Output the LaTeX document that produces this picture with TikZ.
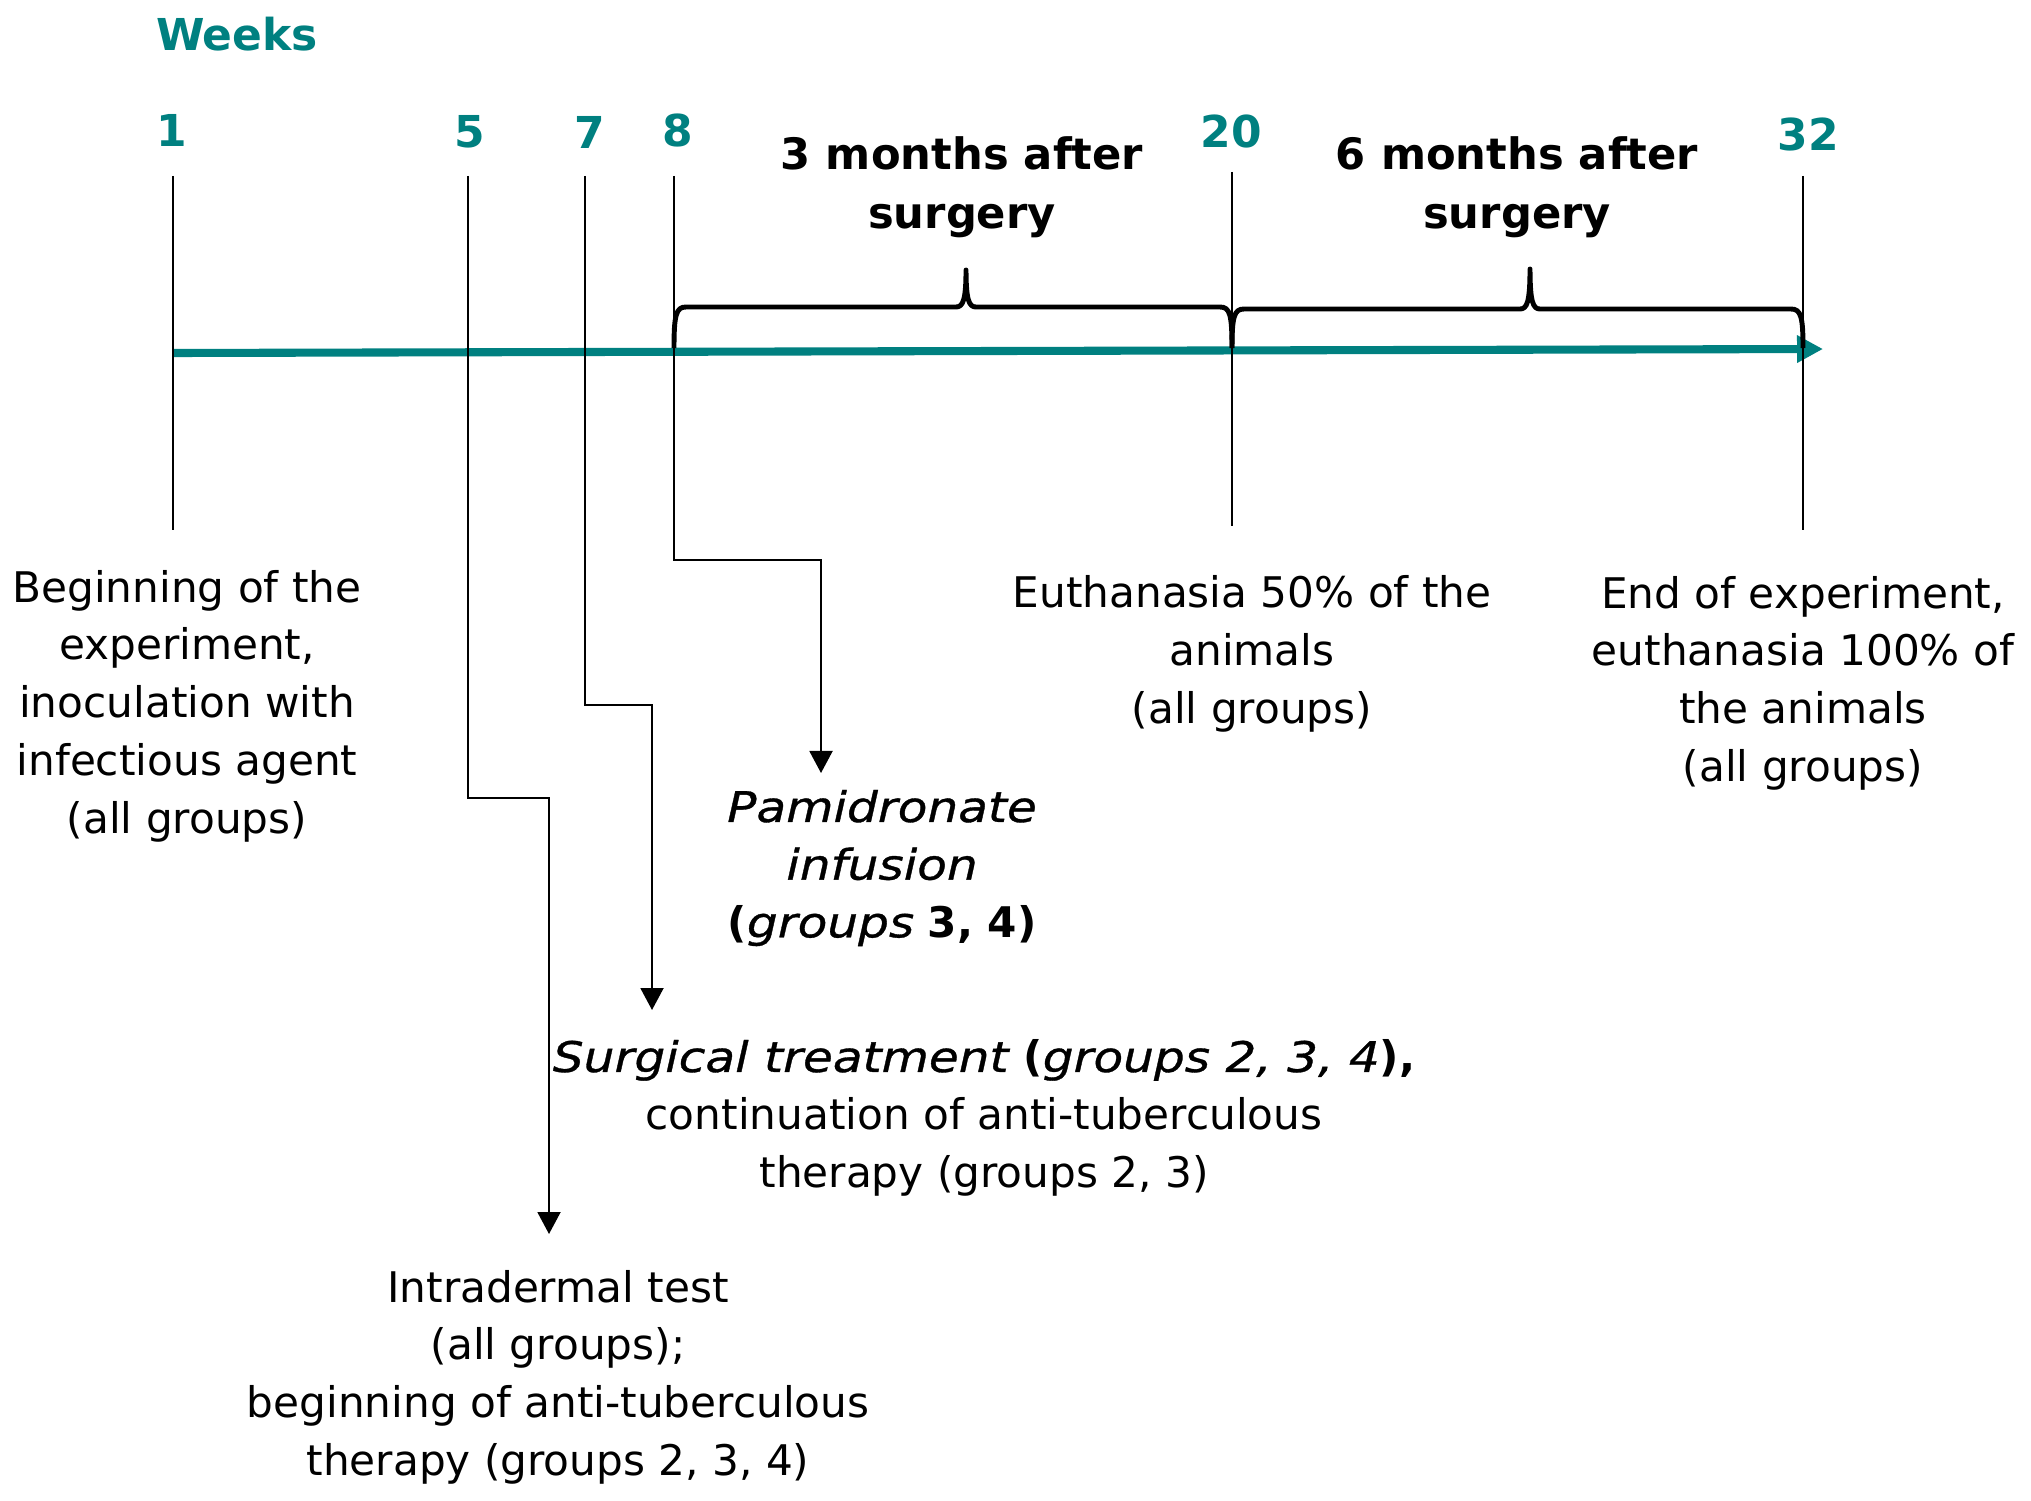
\documentclass[tikz,border=0pt]{standalone}
\usepackage{fontspec}
\setmainfont{DejaVu Sans}
\newfontfamily\penche{DejaVu Sans Oblique}[FakeStretch=1.15,FakeBold=0.8]
\usetikzlibrary{arrows.meta}
\definecolor{sarcelle}{RGB}{0,128,128}

\begin{document}
\begin{tikzpicture}[x=0.01cm,y=-0.01cm]
  \tikzstyle{trait}=[line width=0.55pt]
  \tikzstyle{fleche}=[trait,-{Triangle[width=0.23cm,length=0.22cm]}]
  \tikzstyle{axe}=[line width=2.3pt,sarcelle,-{Triangle[width=0.26cm,length=0.26cm]}]
  \tikzstyle{accolade}=[line width=1.4pt,line join=round]
\tikzset{texte/.style={align=center,inner sep=0pt,font=\fontsize{12}{16.4}\selectfont},
semaine/.style={inner sep=0pt,text=sarcelle,font=\fontsize{12.5}{15}\selectfont\bfseries},
titre/.style={texte,font=\fontsize{12.3}{16.8}\selectfont\bfseries}}
\useasboundingbox (0,0) rectangle (2031,1500);

% semaines
\node[semaine] (W) at (237,34){Weeks};
\node[semaine] (N1) at (172,130){1};
\node[semaine] (N5) at (470,132){5};
\node[semaine] (N7) at (590,132){7};
\node[semaine] (N8) at (678,130){8};
\node[semaine] (N20) at (1231,132){20};
\node[semaine] (N32) at (1808,134){32};

% reperes
\coordinate (S1) at (173,176);
\coordinate (S5) at (468,176);
\coordinate (S7) at (585,176);
\coordinate (S8) at (674,176);
\coordinate (S20) at (1232,172);
\coordinate (S32) at (1803,176);
\coordinate (B1) at (173,530);
\coordinate (B20) at (1232,526);
\coordinate (B32) at (1803,530);
\coordinate (E5) at (549,1234);
\coordinate (E7) at (652,1010);
\coordinate (E8) at (821,773);

% textes
\node[texte] (A) at (187,706){Beginning of the\\experiment,\\inoculation with\\infectious agent\\(all groups)};
\node[texte] (D) at (558,1377){Intradermal test\\(all groups);\\beginning of anti-tuberculous\\therapy (groups 2, 3, 4)};
\node[texte] (C) at (984,1118){{\penche Surgical treatment} \textbf{(}{\penche groups 2, 3, 4}\textbf{),}\\continuation of anti-tuberculous\\therapy (groups 2, 3)};
\node[texte] (P) at (882,868){{\penche Pamidronate}\\{\penche infusion}\\\textbf{(}{\penche groups} \textbf{3, 4)}};
\node[texte] (E) at (1252,654){Euthanasia 50\% of the\\animals\\(all groups)};
\node[texte] (F) at (1803,683){End of experiment,\\euthanasia 100\% of\\the animals\\(all groups)};
\node[titre] (M3) at (962,187){3 months after\\surgery};
\node[titre] (M6) at (1517,187){6 months after\\surgery};

% axe du temps
\draw[axe] (173,353) -- (1823,349);

\draw[trait] (S1) -- (B1);
\draw[trait] (S20) -- (B20);
\draw[trait] (S32) -- (B32);
\draw[fleche] (S5) -- (468,798) -| (E5);
\draw[fleche] (S7) -- (585,705) -| (E7);
\draw[fleche] (S8) -- (674,560) -| (E8);

% accolades
\draw[accolade] (674,348) .. controls (674,315) and (676,307) .. (686,307) -- (956,307)
  .. controls (963,307) and (966,300) .. (966,270) .. controls (966,300) and (969,307) .. (976,307)
  -- (1220,307) .. controls (1230,307) and (1232,315) .. (1232,348);
\draw[accolade] (1232,348) .. controls (1232,317) and (1234,309) .. (1244,309) -- (1520,309)
  .. controls (1527,309) and (1530,302) .. (1530,269) .. controls (1530,302) and (1533,309) .. (1540,309)
  -- (1791,309) .. controls (1801,309) and (1803,317) .. (1803,348);

  \end{tikzpicture}
\end{document}
